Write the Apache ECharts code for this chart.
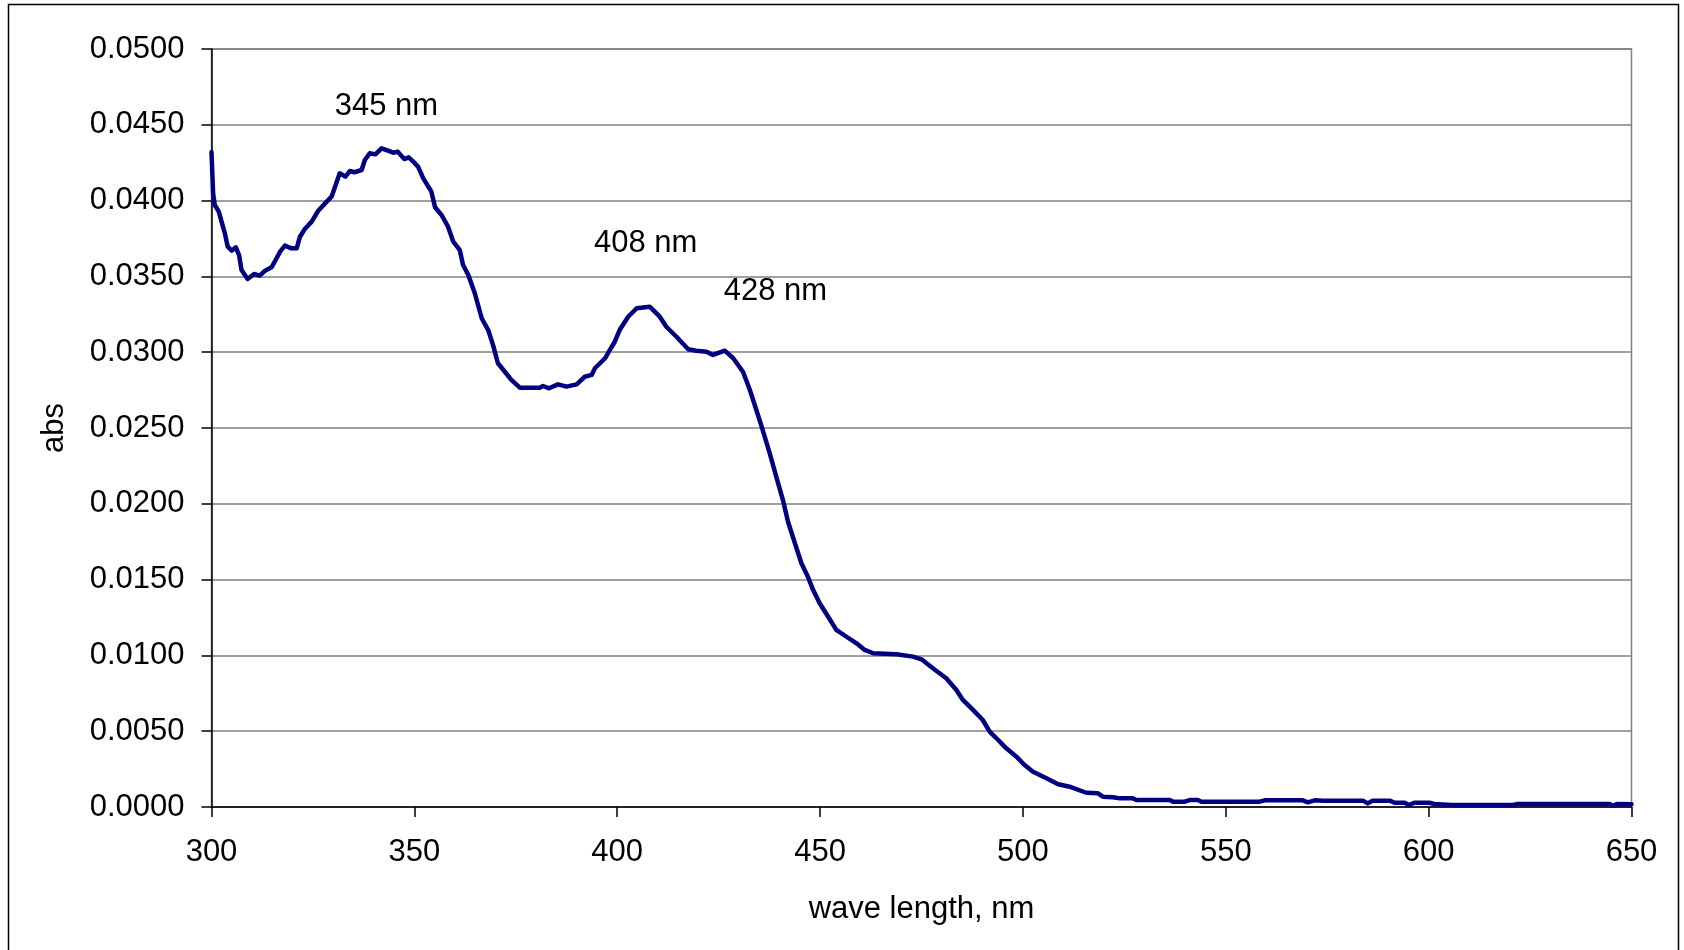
<!DOCTYPE html>
<html>
<head>
<meta charset="utf-8">
<script src="https://cdn.jsdelivr.net/npm/echarts@6/dist/echarts.min.js"></script>
<style>
html,body{margin:0;padding:0;background:#fff;}
#chart{width:1684px;height:950px;}
</style>
</head>
<body>
<div id="chart"></div>
<script>
// Wavelengths (nm) and absorbance
const wavelengths = [
  300.0,300.4,300.8,301.8,302.6,303.3,304.0,305.0,306.0,306.8,307.4,308.9,310.5,311.9,313.2,314.8,315.8,316.9,318.1,319.7,
  321.0,321.8,323.0,324.7,326.3,328.4,329.6,330.6,331.6,333.0,334.1,335.2,337.0,337.8,339.0,340.4,341.9,343.5,344.8,345.9,
  347.5,348.6,350.0,350.9,352.2,354.2,355.1,356.7,358.3,359.6,361.2,362.0,363.3,364.9,366.6,368.2,369.4,370.6,372.3,373.9,
  376.0,380.9,381.7,383.2,385.4,387.5,390.0,392.0,393.7,394.5,397.0,398.2,399.4,400.6,402.7,404.8,408.0,410.5,412.1,414.6,
  417.5,419.5,422.0,423.6,426.5,428.6,431.0,432.7,434.3,435.6,437.6,439.3,440.9,442.1,443.8,445.4,447.0,448.3,449.9,452.0,
  454.0,456.5,459.0,461.0,463.1,468.8,472.9,475.0,477.8,481.1,483.6,485.2,487.7,490.1,491.8,493.9,495.9,498.4,500.4,502.5,
  505.8,508.7,511.5,515.6,518.5,519.7,522.2,523.9,527.1,528.0,536.2,537.0,539.9,541.1,543.1,544.0,558.3,559.6,569.0,570.2,
  571.9,574.0,583.8,585.0,586.2,590.4,591.6,594.1,595.1,596.5,600.2,601.4,605.6,620.8,622.0,644.6,645.4,646.6,650.0
];
const absorbance = [
  0.0432,0.04048,0.03971,0.03927,0.0385,0.03784,0.03696,0.0367,0.03692,0.03641,0.03542,0.03483,0.03516,0.03505,0.03538,0.0356,0.03608,0.03663,0.03703,0.03685,
  0.03685,0.03762,0.03813,0.03861,0.03933,0.03993,0.04026,0.04103,0.0418,0.04158,0.04195,0.04187,0.04202,0.04268,0.04312,0.04305,0.04345,0.04329,0.04316,0.04323,
  0.04274,0.04285,0.0425,0.04224,0.04147,0.04059,0.03956,0.03905,0.03828,0.03729,0.03674,0.03575,0.03509,0.03389,0.03224,0.03146,0.03047,0.02927,0.02871,0.02817,
  0.02766,0.02766,0.02777,0.02762,0.02788,0.02773,0.02788,0.02838,0.0285,0.02894,0.0296,0.03015,0.03069,0.03146,0.03234,0.0329,0.033,0.03234,0.03168,0.03102,
  0.03019,0.0301,0.03003,0.02982,0.0301,0.0296,0.02871,0.02751,0.02619,0.02509,0.02333,0.0217,0.0202,0.01882,0.0174,0.01608,0.01519,0.01431,0.01344,0.01255,
  0.01168,0.01123,0.0108,0.01036,0.01014,0.01007,0.00992,0.00974,0.00915,0.00849,0.00772,0.00706,0.0064,0.00574,0.00497,0.00442,0.00387,0.00332,0.00277,0.00233,
  0.00189,0.0015,0.00134,0.00094,0.0009,0.00068,0.00064,0.00057,0.00057,0.00046,0.00046,0.00035,0.00035,0.00046,0.00046,0.00035,0.00035,0.00044,0.00044,0.00031,
  0.00044,0.00042,0.00042,0.00024,0.00042,0.00042,0.00028,0.00028,0.00013,0.00028,0.00028,0.0002,0.00013,0.00013,0.0002,0.0002,0.00009,0.0002,0.00018
];
// Peak annotations: text and the data position of the text centre
const peakLabels = ['345 nm', '408 nm', '428 nm'];
const peakLabelX = [343.1, 407.0, 439.0];
const peakLabelY = [0.04624, 0.0372, 0.03404];

const xTicks = { min: 300, max: 650, interval: 50 };
const yTicks = { min: 0, max: 0.05, interval: 0.005 };

const FONT = '"Liberation Sans", Arial, sans-serif';
const FS = 31;

const lineData = wavelengths.map((w, i) => [w, absorbance[i]]);
const labelData = peakLabels.map((t, i) => ({ value: [peakLabelX[i], peakLabelY[i]], name: t }));

const chart = echarts.init(document.getElementById('chart'), null, { renderer: 'canvas' });
chart.setOption({
  backgroundColor: '#ffffff',
  animation: false,
  graphic: [{
    type: 'rect',
    shape: { x: 8.5, y: 4.5, width: 1670, height: 960 },
    style: { fill: 'none', stroke: '#000', lineWidth: 1.5 },
    z: 100, silent: true
  }],
  grid: {
    left: 211.5, right: 52.5, top: 49, bottom: 143,
    show: true, borderColor: '#808080', borderWidth: 1.5, backgroundColor: 'transparent'
  },
  xAxis: {
    type: 'value',
    min: xTicks.min, max: xTicks.max, interval: xTicks.interval,
    name: 'wave length, nm',
    nameLocation: 'middle',
    nameGap: 87,
    nameTextStyle: { fontFamily: FONT, fontSize: FS, color: '#000' },
    axisLine: { show: true, onZero: false, lineStyle: { color: '#000', width: 1.5 } },
    axisTick: { show: true, inside: false, length: 10, lineStyle: { color: '#000', width: 1.5 } },
    axisLabel: { fontFamily: FONT, fontSize: FS, color: '#000', margin: 30 },
    splitLine: { show: false }
  },
  yAxis: {
    type: 'value',
    min: yTicks.min, max: yTicks.max, interval: yTicks.interval,
    name: 'abs',
    nameLocation: 'middle',
    nameGap: 142,
    nameRotate: 90,
    nameTextStyle: { fontFamily: FONT, fontSize: FS, color: '#000' },
    axisLine: { show: true, lineStyle: { color: '#000', width: 1.5 } },
    axisTick: { show: true, inside: false, length: 10, lineStyle: { color: '#000', width: 1.5 } },
    axisLabel: {
      fontFamily: FONT, fontSize: FS, color: '#000', margin: 27,
      formatter: v => v.toFixed(4)
    },
    splitLine: { show: true, lineStyle: { color: '#808080', width: 1.5 } }
  },
  series: [
    {
      type: 'line',
      data: lineData,
      showSymbol: false,
      symbol: 'none',
      smooth: false,
      lineStyle: { color: '#000080', width: 4.5, join: 'round', cap: 'round' },
      itemStyle: { color: '#000080' },
      silent: true,
      z: 5
    },
    {
      type: 'scatter',
      data: labelData,
      symbol: 'circle',
      symbolSize: 0,
      itemStyle: { color: '#000', opacity: 1 },
      silent: true,
      label: {
        show: true,
        position: [0, 0],
        align: 'center',
        verticalAlign: 'middle',
        formatter: p => p.name,
        fontFamily: FONT, fontSize: FS, color: '#000', opacity: 1
      },
      z: 6
    }
  ]
});
</script>
</body>
</html>
